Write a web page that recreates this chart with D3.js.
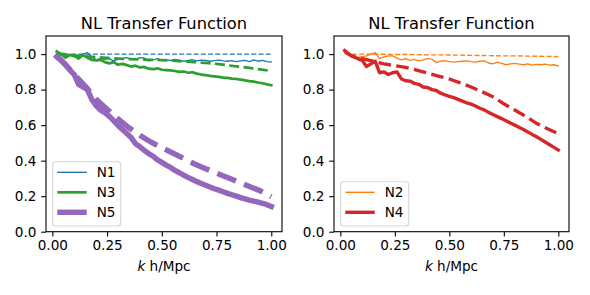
<!doctype html>
<html lang="en">
<head>
<meta charset="UTF-8">
<title>NL Transfer Function</title>
<script src="https://d3js.org/d3.v7.min.js"></script>
<style>
    body { margin: 0; background: #fff; }
    text { font-family: "DejaVu Sans", sans-serif; fill: #000; }
</style>
</head>
<body>
<div id="chart"></div>
<script>
// k grid for the measured (noisy) curves and for the smooth dashed curves
const kData = [0.02,0.04,0.06,0.08,0.10,0.12,0.14,0.16,0.18,0.20,0.22,0.24,0.26,0.28,0.30,0.32,0.34,0.36,0.38,0.40,
    0.42,0.44,0.46,0.48,0.50,0.52,0.54,0.56,0.58,0.60,0.62,0.64,0.66,0.68,0.70,0.72,0.74,0.76,0.78,0.80,
    0.82,0.84,0.86,0.88,0.90,0.92,0.94,0.96,0.98,1.00]
const kSmooth = [0.02,0.05,0.10,0.15,0.20,0.25,0.30,0.35,0.40,0.45,0.50,0.55,0.60,0.65,0.70,0.75,0.80,0.85,0.90,0.95,1.00]

const n1 = [1.00,0.995,0.99,0.995,0.985,0.99,1.0,1.008,0.985,0.967,0.975,0.97,0.975,0.962,0.97,0.975,0.98,0.972,0.97,0.98,
    0.978,0.962,0.968,0.975,0.966,0.968,0.965,0.97,0.966,0.96,0.965,0.968,0.962,0.966,0.964,0.96,0.963,0.966,0.962,0.96,
    0.963,0.958,0.962,0.965,0.958,0.968,0.96,0.965,0.958,0.955]
const n1Dash = [1,1,1,1,1,1,1,1,1,1,1,1,1,1,1,1,1,1,1,1,1]

const n3 = [1.015,1.0,0.98,0.995,0.99,0.975,0.995,0.98,0.968,0.965,0.968,0.955,0.948,0.955,0.94,0.945,0.938,0.93,0.935,0.925,
    0.928,0.918,0.915,0.92,0.912,0.91,0.908,0.905,0.9,0.902,0.895,0.898,0.89,0.885,0.882,0.878,0.875,0.872,0.868,0.866,
    0.862,0.86,0.856,0.852,0.848,0.845,0.84,0.836,0.83,0.825]
const n3Dash = [1.005,1.0,0.993,0.987,0.983,0.979,0.975,0.972,0.97,0.968,0.966,0.963,0.959,0.955,0.95,0.945,0.937,0.93,0.922,0.914,0.905]

const n5 = [0.986,0.965,0.94,0.91,0.885,0.83,0.815,0.80,0.745,0.71,0.685,0.67,0.65,0.625,0.598,0.575,0.553,0.53,0.495,0.478,
    0.458,0.44,0.425,0.405,0.39,0.375,0.362,0.345,0.332,0.318,0.306,0.294,0.282,0.272,0.262,0.252,0.242,0.234,0.225,0.216,
    0.208,0.2,0.192,0.185,0.178,0.172,0.166,0.16,0.152,0.142]
const n5Dash = [0.99,0.955,0.885,0.82,0.745,0.69,0.635,0.585,0.542,0.505,0.473,0.443,0.412,0.381,0.355,0.33,0.305,0.28,0.255,0.23,0.197]

const n2 = [1.018,1.0,0.99,0.98,0.985,0.99,1.0,1.008,0.975,0.985,0.99,0.99,0.978,0.968,0.975,0.965,0.97,0.962,0.968,0.975,
    0.972,0.952,0.96,0.963,0.958,0.955,0.958,0.96,0.962,0.958,0.955,0.96,0.962,0.95,0.945,0.955,0.948,0.94,0.945,0.948,
    0.944,0.94,0.945,0.938,0.942,0.94,0.944,0.938,0.94,0.933]
const n2Dash = [1.0,1.0,1.0,0.999,0.999,0.998,0.998,0.997,0.996,0.996,0.995,0.994,0.993,0.992,0.991,0.99,0.99,0.989,0.988,0.987,0.986]

const n4 = [1.02,1.0,0.985,0.975,0.965,0.93,0.945,0.96,0.895,0.9,0.885,0.895,0.9,0.86,0.85,0.848,0.835,0.83,0.815,0.812,
    0.8,0.795,0.78,0.77,0.762,0.755,0.745,0.735,0.725,0.718,0.708,0.695,0.686,0.672,0.66,0.648,0.637,0.625,0.612,0.6,
    0.588,0.575,0.562,0.548,0.535,0.52,0.505,0.49,0.475,0.46]
const n4Dash = [1.015,0.99,0.975,0.96,0.945,0.935,0.925,0.91,0.893,0.876,0.86,0.838,0.815,0.788,0.76,0.72,0.685,0.65,0.61,0.58,0.552]

const xTicks = [0, 0.25, 0.5, 0.75, 1.0]
const yTicks = [0, 0.2, 0.4, 0.6, 0.8, 1.0]
const titleText = 'NL Transfer Function'

const pt = 1.36   // px per point
const panels = [
    { left: 46, right: 282, series: [
        { name: 'N1', color: '#1f77b4', lw: 1, y: n1, yd: n1Dash },
        { name: 'N3', color: '#2ca02c', lw: 2, y: n3, yd: n3Dash },
        { name: 'N5', color: '#9467bd', lw: 4, y: n5, yd: n5Dash } ] },
    { left: 334, right: 569, series: [
        { name: 'N2', color: '#ff7f0e', lw: 1, y: n2, yd: n2Dash },
        { name: 'N4', color: '#d62728', lw: 2.5, y: n4, yd: n4Dash } ] }
]
const plotTop = 36, plotBottom = 231.7

const svg = d3.select('#chart').append('svg')
    .attr('width', 590).attr('height', 295)

panels.forEach(function(p, pi) {
    const x = d3.scaleLinear().domain([-0.029, 1.049]).range([p.left, p.right])
    const y = d3.scaleLinear().domain([0, 1.102]).range([plotBottom, plotTop])
    const g = svg.append('g')

    const clipId = 'clip' + pi
    g.append('clipPath').attr('id', clipId)
        .append('rect').attr('x', p.left).attr('y', plotTop)
        .attr('width', p.right - p.left).attr('height', plotBottom - plotTop)

    const line = d3.line().x(d => x(d[0])).y(d => y(d[1]))
    const plot = g.append('g').attr('clip-path', 'url(#' + clipId + ')')
    p.series.forEach(function(s) {
        const w = s.lw * pt
        plot.append('path')
            .datum(kData.map((k, i) => [k, s.y[i]]))
            .attr('d', line).attr('fill', 'none')
            .attr('stroke', s.color).attr('stroke-width', w)
            .attr('stroke-linejoin', 'round').attr('stroke-linecap', 'square')
        plot.append('path')
            .datum(kSmooth.map((k, i) => [k, s.yd[i]]))
            .attr('d', line).attr('fill', 'none')
            .attr('stroke', s.color).attr('stroke-width', w)
            .attr('stroke-dasharray', (3.7 * w) + ',' + (1.6 * w))
            .attr('stroke-linejoin', 'round')
    })

    // axes
    const xAxis = g.append('g').attr('transform', 'translate(0,' + plotBottom + ')')
        .call(d3.axisBottom(x).tickValues(xTicks).tickFormat(d3.format('.2f'))
            .tickSize(4.8).tickPadding(3.5))
    const yAxis = g.append('g').attr('transform', 'translate(' + p.left + ',0)')
        .call(d3.axisLeft(y).tickValues(yTicks).tickFormat(d3.format('.1f'))
            .tickSize(4.8).tickPadding(4.8))
    ;[xAxis, yAxis].forEach(a => {
        a.select('.domain').remove()
        a.selectAll('line').attr('stroke', '#000').attr('stroke-width', 1.1)
        a.selectAll('text').attr('font-size', 13.6).attr('font-family', 'DejaVu Sans')
    })

    g.append('rect').attr('x', p.left).attr('y', plotTop)
        .attr('width', p.right - p.left).attr('height', plotBottom - plotTop)
        .attr('fill', 'none').attr('stroke', '#000').attr('stroke-width', 1.1)

    const cx = (p.left + p.right) / 2
    g.append('text').attr('x', cx).attr('y', 29)
        .attr('text-anchor', 'middle').attr('font-size', 16.3).text(titleText)
    const xl = g.append('text').attr('x', cx).attr('y', 270.7)
        .attr('text-anchor', 'middle').attr('font-size', 13.6)
    xl.append('tspan').attr('font-style', 'italic').text('k')
    xl.append('tspan').text(' h/Mpc')

    // legend, lower left
    const n = p.series.length
    const lx = p.left + 6.7, lb = plotBottom - 5.7
    const lh = 20 * n + 4.3
    const leg = g.append('g')
    leg.append('rect').attr('x', lx).attr('y', lb - lh)
        .attr('width', 68).attr('height', lh).attr('rx', 3)
        .attr('fill', '#fff').attr('fill-opacity', 0.8)
        .attr('stroke', '#d5d5d5').attr('stroke-width', 1.1)
    p.series.forEach(function(s, i) {
        const yy = lb - lh + 10.6 + 20 * i
        leg.append('line').attr('x1', lx + 4.6).attr('x2', lx + 34)
            .attr('y1', yy).attr('y2', yy)
            .attr('stroke', s.color).attr('stroke-width', s.lw * pt)
        leg.append('text').attr('x', lx + 44).attr('y', yy + 5)
            .attr('font-size', 13.6).text(s.name)
    })
})
</script>
</body>
</html>
